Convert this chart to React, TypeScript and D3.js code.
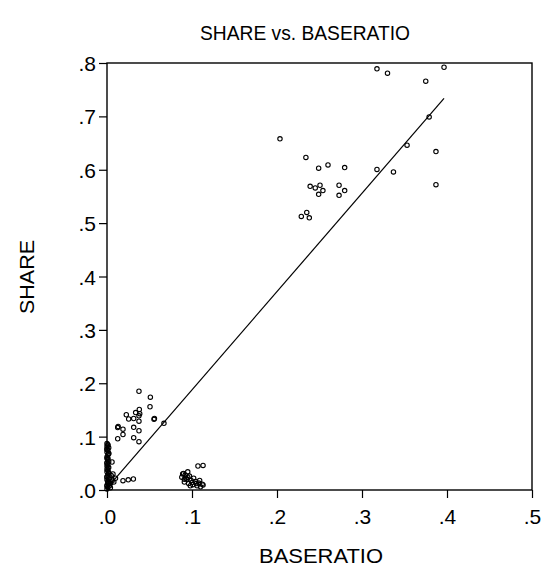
import { useEffect, useRef } from 'react';
import * as d3 from 'd3';

const BASERATIO = [
  // upper cluster
  0.3176, 0.330, 0.375, 0.3965, 0.379, 0.353, 0.387, 0.3176, 0.337, 0.387,
  0.2035, 0.234, 0.249, 0.260, 0.2796, 0.239, 0.245, 0.2506, 0.254, 0.249,
  0.273, 0.2796, 0.273, 0.2286, 0.235, 0.238,
  // lower-left cluster
  0.0376, 0.051, 0.0227, 0.0255, 0.0314, 0.0337, 0.038, 0.0376, 0.0385, 0.0376,
  0.0506, 0.0553, 0.0558, 0.067, 0.0126, 0.0131, 0.0188, 0.0314, 0.0376, 0.0126,
  0.0188, 0.0314, 0.0376, 0.0059, 0.0188, 0.025, 0.031,
  // column at zero
  0.000, 0.001, 0.000, 0.002, 0.000, 0.001, 0.000, 0.002, 0.001, 0.000,
  0.000, 0.001, 0.002, 0.000, 0.001, 0.000, 0.002, 0.000, 0.001, 0.000,
  0.002, 0.001, 0.000, 0.003, 0.000, 0.001, 0.002, 0.000, 0.001, 0.000,
  0.001, 0.000, 0.002, 0.001, 0.000, 0.001, 0.002, 0.000, 0.001, 0.000,
  0.004, 0.006, 0.005, 0.008, 0.003, 0.007, 0.010, 0.004, 0.006,
  // cluster near .1
  0.088, 0.090, 0.095, 0.092, 0.094, 0.097, 0.091, 0.096, 0.099, 0.101,
  0.104, 0.106, 0.108, 0.110, 0.112, 0.113, 0.107, 0.113, 0.093, 0.098,
  0.102, 0.105, 0.089, 0.1, 0.109, 0.091, 0.095,
];

const SHARE = [
  0.789, 0.781, 0.766, 0.792, 0.699, 0.646, 0.634, 0.6006, 0.596, 0.572,
  0.658, 0.623, 0.603, 0.609, 0.604, 0.569, 0.566, 0.571, 0.561, 0.554,
  0.571, 0.561, 0.552, 0.5125, 0.520, 0.510,
  0.185, 0.174, 0.141, 0.133, 0.134, 0.145, 0.151, 0.139, 0.143, 0.129,
  0.156, 0.1325, 0.134, 0.125, 0.117, 0.119, 0.114, 0.1175, 0.111, 0.096,
  0.104, 0.098, 0.0906, 0.0525, 0.0175, 0.019, 0.0206,
  0.087, 0.084, 0.082, 0.079, 0.076, 0.074, 0.071, 0.068, 0.066, 0.062,
  0.059, 0.057, 0.053, 0.050, 0.048, 0.045, 0.042, 0.039, 0.037, 0.034,
  0.031, 0.028, 0.025, 0.022, 0.019, 0.016, 0.012, 0.009, 0.005, 0.002,
  0.085, 0.077, 0.069, 0.060, 0.051, 0.043, 0.033, 0.024, 0.014, 0.007,
  0.012, 0.020, 0.027, 0.015, 0.008, 0.030, 0.022, 0.004, 0.017,
  0.024, 0.031, 0.034, 0.028, 0.020, 0.026, 0.015, 0.012, 0.018, 0.010,
  0.016, 0.008, 0.013, 0.006, 0.011, 0.0094, 0.045, 0.046, 0.022, 0.008,
  0.022, 0.012, 0.030, 0.014, 0.018, 0.020, 0.024,
];

const X_TICKS = [0, 0.1, 0.2, 0.3, 0.4, 0.5];
const Y_TICKS = [0, 0.1, 0.2, 0.3, 0.4, 0.5, 0.6, 0.7, 0.8];

// fitted line: SHARE = a + b * BASERATIO
const FIT_A = 0.0036;
const FIT_B = 1.841;

const fmt = (v: number) => d3.format('.1f')(v).replace(/^0/, '');

export default function App() {
  const svgRef = useRef<SVGSVGElement>(null);

  useEffect(() => {
    document.body.style.margin = '0';
    if (!svgRef.current) return;

    const width = 548;
    const height = 573;
    const left = 107, right = 532, top = 63, bottom = 490;
    const font = "'Liberation Sans', Arial, sans-serif";

    const svg = d3.select(svgRef.current);
    svg.selectAll('*').remove();
    svg.attr('width', width).attr('height', height);

    svg.append('rect').attr('width', width).attr('height', height).attr('fill', '#fff');

    const x = d3.scaleLinear().domain([0, 0.5]).range([left, right]);
    const y = d3.scaleLinear().domain([0, 0.8]).range([bottom, top]);

    // axes
    const xAxis = svg.append('g')
      .attr('transform', `translate(0,${bottom})`)
      .call(d3.axisBottom(x).tickValues(X_TICKS).tickFormat((d) => fmt(+d)).tickSize(8).tickSizeOuter(0));
    const yAxis = svg.append('g')
      .attr('transform', `translate(${left},0)`)
      .call(d3.axisLeft(y).tickValues(Y_TICKS).tickFormat((d) => fmt(+d)).tickSize(8).tickSizeOuter(0));

    [xAxis, yAxis].forEach((g) => {
      g.select('.domain').remove();
      g.selectAll('line').attr('stroke', '#000').attr('stroke-width', 1.2);
      g.selectAll('text')
        .attr('fill', '#000')
        .style('font-family', font)
        .style('font-size', '21px');
    });
    xAxis.selectAll('text').attr('dy', '0').attr('y', 34);
    yAxis.selectAll('text').attr('dy', '0.36em').attr('x', -11);

    // frame
    svg.append('rect')
      .attr('x', left).attr('y', top)
      .attr('width', right - left).attr('height', bottom - top)
      .attr('fill', 'none').attr('stroke', '#000').attr('stroke-width', 1.4);

    // points
    const pts = BASERATIO.map((b, i) => [b, SHARE[i]] as [number, number]);
    svg.append('g')
      .selectAll('circle')
      .data(pts)
      .enter()
      .append('circle')
      .attr('cx', (d) => x(d[0]))
      .attr('cy', (d) => y(d[1]))
      .attr('r', 2.2)
      .attr('fill', 'none')
      .attr('stroke', '#000')
      .attr('stroke-width', 1.1);

    // regression line across the data range
    const [x0, x1] = d3.extent(BASERATIO) as [number, number];
    const line = d3.line<number>().x((d) => x(d)).y((d) => y(FIT_A + FIT_B * d));
    svg.append('path')
      .attr('d', line([x0, x1]))
      .attr('fill', 'none')
      .attr('stroke', '#000')
      .attr('stroke-width', 1.2);

    // titles
    svg.append('text')
      .attr('x', 305).attr('y', 40)
      .attr('text-anchor', 'middle')
      .attr('textLength', 210).attr('lengthAdjust', 'spacingAndGlyphs')
      .style('font-family', font).style('font-size', '21px')
      .text('SHARE vs. BASERATIO');

    svg.append('text')
      .attr('x', 321).attr('y', 563)
      .attr('text-anchor', 'middle')
      .attr('textLength', 124).attr('lengthAdjust', 'spacingAndGlyphs')
      .style('font-family', font).style('font-size', '21px')
      .text('BASERATIO');

    svg.append('text')
      .attr('transform', `translate(34,277) rotate(-90)`)
      .attr('text-anchor', 'middle')
      .attr('textLength', 74).attr('lengthAdjust', 'spacingAndGlyphs')
      .style('font-family', font).style('font-size', '21px')
      .text('SHARE');
  }, []);

  return <svg ref={svgRef} style={{ display: 'block' }} />;
}
